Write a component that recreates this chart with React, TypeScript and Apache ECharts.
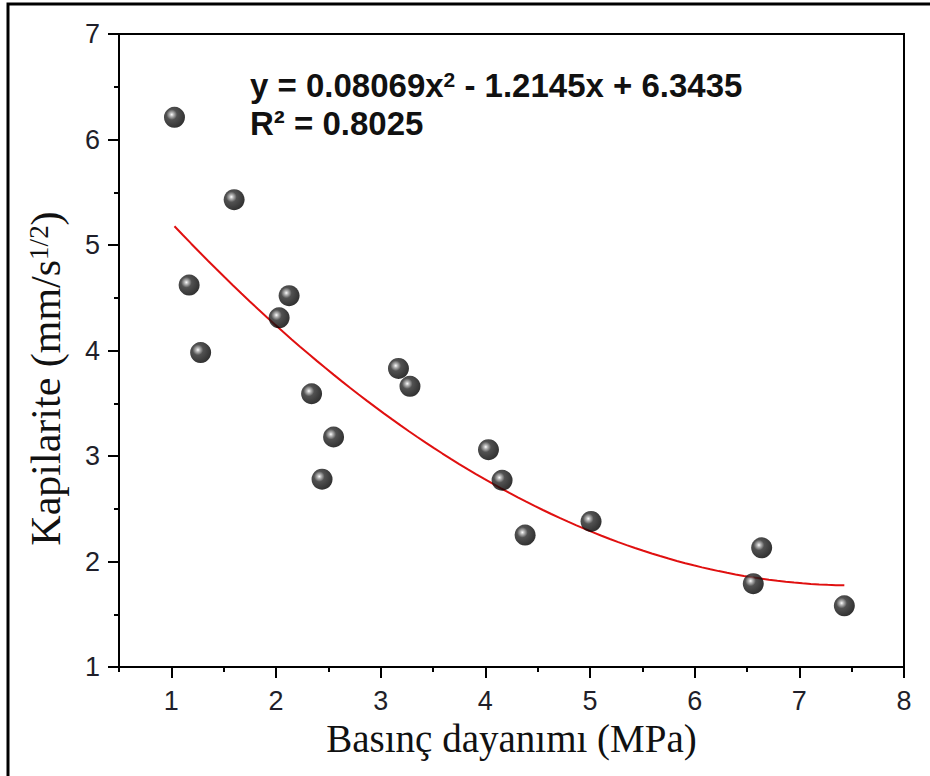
import React, { useEffect, useRef } from "react";
import * as echarts from "echarts";

// Measured data (Basınç dayanımı, MPa  vs  Kapilarite, mm/s^1/2)
const strength = [1.03, 1.6, 1.17, 1.28, 2.125, 2.03, 2.34, 2.55, 2.44, 3.17, 3.28, 4.03, 4.16, 4.38, 5.01, 6.56, 6.64, 7.43];
const capillarity = [6.21, 5.43, 4.62, 3.98, 4.52, 4.31, 3.59, 3.18, 2.78, 3.83, 3.66, 3.06, 2.77, 2.25, 2.38, 1.79, 2.13, 1.58];

// Printed regression: y = a x^2 + b x + c
const fitCoefficients = [0.08069, -1.2145, 6.3435];
const fitLabel = "y = 0.08069x{sup|2} - 1.2145x + 6.3435";
const r2Label = "R² = 0.8025";

const xMajorTicks = [1, 2, 3, 4, 5, 6, 7, 8];
const xMinorTicks = [0.5, 1.5, 2.5, 3.5, 4.5, 5.5, 6.5, 7.5];
const yMajorTicks = [1, 2, 3, 4, 5, 6, 7];
const yMinorTicks = [1.5, 2.5, 3.5, 4.5, 5.5, 6.5];

export default function App() {
  const ref = useRef<HTMLDivElement>(null);
  useEffect(() => {
    if (!ref.current) return;
    const chart = echarts.init(ref.current, null, { renderer: "svg" });
    const points = strength.map((x, i) => [x, capillarity[i]]);
    const xMin = Math.min(...strength);
    const xMax = Math.max(...strength);
    const [a, b, c] = fitCoefficients;
    const fit: number[][] = [];
    const steps = 80;
    for (let i = 0; i <= steps; i++) {
      const x = xMin + ((xMax - xMin) * i) / steps;
      fit.push([x, a * x * x + b * x + c]);
    }
    const tickLabel = { fontFamily: "Liberation Sans, Arial", fontSize: 27, color: "#1f1f2a" };
    const axisLine = { show: true, lineStyle: { color: "#000", width: 2 } };
    const sphere = {
      type: "radial",
      x: 0.37,
      y: 0.37,
      r: 0.63,
      colorStops: [
        { offset: 0, color: "#ffffff" },
        { offset: 0.14, color: "#a8a8a8" },
        { offset: 0.4, color: "#262626" },
        { offset: 1, color: "#000" },
      ],
    };
    chart.setOption({
      animation: false,
      backgroundColor: "#fff",
      grid: {
        left: 119,
        right: 26,
        top: 34,
        bottom: 109,
        show: true,
        borderColor: "#000",
        borderWidth: 2,
        backgroundColor: "transparent",
      },
      xAxis: [
        {
          type: "value",
          min: 0.5,
          max: 8,
          interval: 0.5,
          name: "Basınç dayanımı (MPa)",
          nameLocation: "middle",
          nameGap: 46,
          nameTextStyle: { fontFamily: "Liberation Serif, Times New Roman", fontSize: 39, color: "#111" },
          axisLine,
          splitLine: { show: false },
          axisTick: { show: true, customValues: xMajorTicks, length: 11, lineStyle: { color: "#000", width: 2 } },
          axisLabel: { ...tickLabel, customValues: xMajorTicks, margin: 20 },
        },
        {
          type: "value",
          min: 0.5,
          max: 8,
          interval: 0.5,
          position: "bottom",
          axisLine: { show: false },
          splitLine: { show: false },
          axisTick: { show: true, customValues: xMinorTicks, length: 5, lineStyle: { color: "#000", width: 2 } },
          axisLabel: { show: false },
        },
      ],
      yAxis: [
        {
          type: "value",
          min: 1,
          max: 7,
          interval: 1,
          name: "Kapilarite (mm/s{sup|1/2})",
          nameLocation: "middle",
          nameGap: 52,
          nameTextStyle: {
            fontFamily: "Liberation Serif, Times New Roman",
            fontSize: 42,
            color: "#111",
            padding: [0, 56, 0, 0],
            rich: {
              sup: { fontFamily: "Liberation Serif, Times New Roman", fontSize: 27, color: "#111", verticalAlign: "top", lineHeight: 27, padding: [0, 0, 16, 0] },
            },
          },
          axisLine,
          splitLine: { show: false },
          axisTick: { show: true, customValues: yMajorTicks, length: 11, lineStyle: { color: "#000", width: 2 } },
          axisLabel: { ...tickLabel, customValues: yMajorTicks, margin: 19 },
        },
        {
          type: "value",
          min: 1,
          max: 7,
          interval: 0.5,
          position: "left",
          axisLine: { show: false },
          splitLine: { show: false },
          axisTick: { show: true, customValues: yMinorTicks, length: 5, lineStyle: { color: "#000", width: 2 } },
          axisLabel: { show: false },
        },
      ],
      series: [
        {
          type: "line",
          data: fit,
          showSymbol: false,
          smooth: false,
          lineStyle: { color: "#e01010", width: 2 },
          z: 2,
        },
        {
          type: "scatter",
          data: points,
          symbol: "circle",
          symbolSize: 21,
          itemStyle: { color: sphere },
          z: 3,
        },
      ],
      graphic: [
        {
          type: "polyline",
          shape: { points: [[8, 776], [8, 4], [930, 4]] },
          style: { stroke: "#000", lineWidth: 3, fill: "none" },
        },
        {
          type: "text",
          x: 250,
          y: 85,
          style: {
            text: fitLabel,
            fontFamily: "Liberation Sans, Arial",
            fontWeight: "bold",
            fontSize: 33,
            fill: "#111",
            verticalAlign: "middle",
            rich: {
              sup: { fontFamily: "Liberation Sans, Arial", fontWeight: "bold", fontSize: 21, fill: "#111", verticalAlign: "top", lineHeight: 21, padding: [0, 0, 14, 0] },
            },
          },
        },
        {
          type: "text",
          x: 250,
          y: 123,
          style: {
            text: r2Label,
            fontFamily: "Liberation Sans, Arial",
            fontWeight: "bold",
            fontSize: 33,
            fill: "#111",
            verticalAlign: "middle",
          },
        },
      ],
    });
    return () => chart.dispose();
  }, []);
  return <div ref={ref} style={{ position: "fixed", left: 0, top: 0, width: 930, height: 776 }} />;
}
